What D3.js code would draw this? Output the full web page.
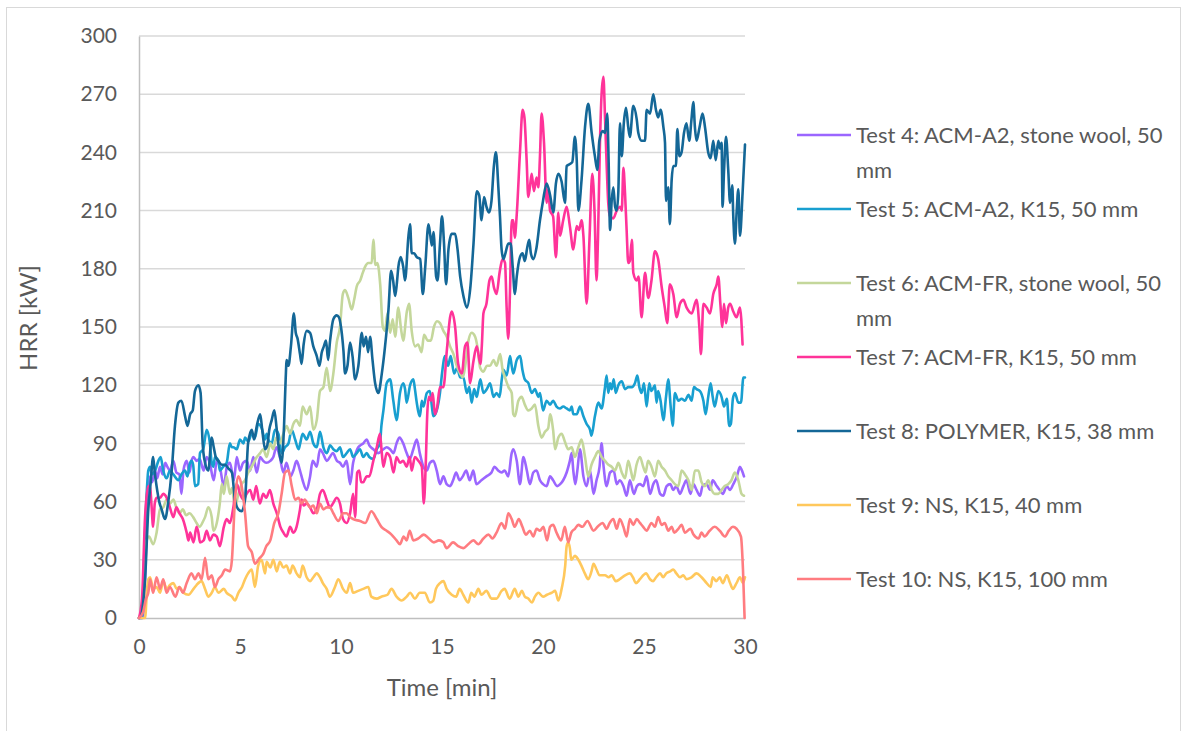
<!DOCTYPE html>
<html>
<head>
<meta charset="utf-8">
<script src="https://cdn.jsdelivr.net/npm/d3@7"></script>
<style>
  html, body { margin: 0; padding: 0; background: #fff; }
  svg text { font-family: Lato, "Open Sans", sans-serif; fill: #595959; }
</style>
</head>
<body>
<svg id="chart" width="1184" height="731"></svg>
<script>
// Heat release rate curves, [time in min, HRR in kW]
const test4 = [[0,0],[0.2,0],[0.4,50],[0.55,73],[0.65,70],[0.8,76],[0.9,72],[1.04,78],[1.17,74],[1.3,80],[1.4,78],[1.53,76],[1.7,81],[1.85,75],[2.0,74],[2.1,64],[2.2,76],[2.36,81],[2.5,75],[2.6,81],[2.7,83],[2.85,81],[3.0,82],[3.2,76],[3.35,83],[3.5,80],[3.7,71],[3.85,81],[4.0,78],[4.2,68],[4.35,78],[4.5,80],[4.7,71],[4.84,83],[5.0,76],[5.15,80],[5.33,81],[5.5,76],[5.66,83],[5.83,75],[6.0,83],[6.15,81],[6.3,80],[6.5,81],[6.65,83],[6.8,88],[6.97,83],[7.15,75],[7.3,80],[7.5,73],[7.64,76],[7.8,81],[7.97,76],[8.1,71],[8.3,66],[8.47,73],[8.6,81],[8.8,78],[8.96,87],[9.1,85],[9.3,81],[9.45,83],[9.6,85],[9.8,81],[9.95,80],[10.1,78],[10.28,81],[10.45,69],[10.6,80],[10.8,87],[10.95,89],[11.1,90],[11.27,92],[11.4,89],[11.6,87],[11.85,85],[12.1,87],[12.26,88],[12.43,87],[12.6,85],[12.75,90],[12.9,93],[13.08,90],[13.25,85],[13.4,82],[13.58,87],[13.75,92],[13.9,85],[14.08,78],[14.25,76],[14.4,80],[14.57,81],[14.74,76],[14.9,69],[15.07,73],[15.23,69],[15.4,68],[15.55,71],[15.7,75],[15.87,71],[16.03,73],[16.2,76],[16.37,71],[16.55,76],[16.7,69],[16.95,71],[17.2,73],[17.45,75],[17.6,78],[17.78,76],[17.95,75],[18.1,76],[18.28,73],[18.45,85],[18.53,87],[18.7,81],[18.86,69],[19.03,83],[19.2,76],[19.35,69],[19.52,75],[19.68,76],[19.85,71],[20.0,69],[20.18,68],[20.35,73],[20.5,71],[20.7,68],[20.85,69],[21.0,71],[21.17,75],[21.33,81],[21.42,85],[21.5,76],[21.6,69],[21.7,76],[21.83,87],[22.0,73],[22.16,68],[22.33,76],[22.5,64],[22.65,71],[22.8,78],[22.9,90],[23.0,78],[23.15,68],[23.32,75],[23.5,76],[23.65,69],[23.8,71],[23.98,68],[24.14,63],[24.3,71],[24.5,64],[24.65,68],[24.8,69],[24.96,68],[25.13,73],[25.3,64],[25.46,69],[25.6,71],[25.8,64],[25.95,63],[26.12,68],[26.3,69],[26.45,66],[26.6,68],[26.78,64],[26.95,68],[27.1,71],[27.3,64],[27.44,69],[27.6,66],[27.77,63],[27.9,68],[28.1,69],[28.27,66],[28.4,71],[28.6,68],[28.75,66],[28.9,64],[29.1,68],[29.25,66],[29.42,69],[29.6,73],[29.75,78],[29.85,76],[29.95,73]];

const test5 = [[0,0],[0.15,0],[0.25,30],[0.38,64],[0.46,76],[0.55,78],[0.63,74],[0.8,76],[0.96,81],[1.07,83],[1.2,76],[1.37,72],[1.53,76],[1.7,74],[1.95,71],[2.1,74],[2.28,76],[2.4,73],[2.5,79],[2.6,81],[2.68,79],[2.77,68],[2.93,69],[3.02,85],[3.18,87],[3.35,97],[3.51,90],[3.6,80],[3.68,78],[3.76,83],[3.93,81],[4.0,76],[4.17,78],[4.34,80],[4.5,90],[4.6,88],[4.67,88],[4.84,87],[5.0,92],[5.17,90],[5.25,93],[5.41,91],[5.58,95],[5.74,93],[5.9,100],[6.07,98],[6.24,92],[6.32,95],[6.4,92],[6.57,90],[6.73,97],[6.9,95],[7.06,85],[7.23,88],[7.4,90],[7.56,97],[7.73,92],[7.9,87],[7.98,90],[8.1,95],[8.3,92],[8.47,96],[8.63,90],[8.8,88],[8.96,96],[9.13,88],[9.3,85],[9.46,89],[9.62,87],[9.79,86],[9.95,88],[10.1,83],[10.28,85],[10.45,87],[10.6,83],[10.78,85],[10.94,87],[11.1,83],[11.27,85],[11.4,83],[11.6,82],[11.77,87],[11.93,90],[12.0,99],[12.1,107],[12.26,121],[12.43,123],[12.59,112],[12.75,102],[12.92,116],[13.08,121],[13.17,118],[13.25,111],[13.42,120],[13.58,123],[13.66,118],[13.75,111],[13.91,104],[14.0,112],[14.08,109],[14.25,116],[14.4,117],[14.5,109],[14.57,104],[14.74,107],[14.9,116],[15.0,126],[15.15,135],[15.3,130],[15.43,135],[15.6,126],[15.75,129],[15.9,124],[16.06,124],[16.23,116],[16.35,119],[16.47,111],[16.59,118],[16.72,114],[16.8,118],[16.9,123],[17.05,116],[17.22,118],[17.38,121],[17.55,114],[17.7,116],[17.85,114],[17.96,123],[18.04,128],[18.2,125],[18.37,135],[18.45,130],[18.53,126],[18.7,133],[18.87,135],[18.98,128],[19.1,123],[19.28,121],[19.44,116],[19.6,118],[19.77,114],[19.85,116],[20.0,107],[20.18,112],[20.35,110],[20.5,112],[20.67,109],[20.84,108],[21.0,109],[21.17,108],[21.33,107],[21.42,109],[21.5,105],[21.67,105],[21.83,109],[22.0,104],[22.16,100],[22.33,97],[22.4,94],[22.57,104],[22.74,111],[22.9,108],[23.07,119],[23.15,125],[23.23,116],[23.32,121],[23.4,118],[23.5,123],[23.6,116],[23.73,120],[23.9,122],[24.06,118],[24.22,119],[24.4,119],[24.55,121],[24.67,125],[24.77,119],[24.88,116],[25.0,121],[25.13,109],[25.26,121],[25.37,117],[25.54,120],[25.62,111],[25.7,117],[25.82,112],[25.96,102],[26.09,114],[26.2,123],[26.32,109],[26.42,99],[26.53,116],[26.7,112],[26.86,113],[27.03,112],[27.2,115],[27.36,112],[27.47,119],[27.6,118],[27.77,117],[27.94,112],[28.05,105],[28.18,114],[28.3,121],[28.4,114],[28.5,109],[28.68,117],[28.84,114],[28.96,109],[29.1,113],[29.22,99],[29.3,100],[29.4,113],[29.5,116],[29.67,111],[29.8,111],[29.92,124],[30.0,124]];

const test6 = [[0,0],[0.15,5],[0.25,20],[0.38,40],[0.5,42],[0.7,38],[0.87,44],[1.04,56],[1.2,57],[1.37,61],[1.53,59],[1.7,61],[1.85,57],[2.0,54],[2.17,56],[2.33,53],[2.5,54],[2.68,52],[2.85,49],[3.0,47],[3.18,50],[3.27,52],[3.43,57],[3.6,52],[3.68,45],[3.85,49],[4.0,59],[4.1,69],[4.2,64],[4.34,73],[4.5,64],[4.6,67],[4.75,57],[4.92,64],[5.08,69],[5.25,71],[5.41,75],[5.58,78],[5.83,83],[6.0,85],[6.15,87],[6.32,83],[6.5,90],[6.65,87],[6.8,93],[6.97,90],[7.15,95],[7.31,99],[7.48,95],[7.64,100],[7.8,102],[7.97,99],[8.1,109],[8.3,105],[8.47,109],[8.63,97],[8.8,102],[8.96,117],[9.13,119],[9.29,129],[9.46,117],[9.62,126],[9.79,142],[9.95,150],[10.09,167],[10.2,169],[10.36,165],[10.53,159],[10.65,164],[10.78,171],[10.95,174],[11.08,178],[11.19,181],[11.35,183],[11.52,183],[11.6,195],[11.7,182],[11.8,183],[11.94,172],[12.07,150],[12.18,148],[12.3,157],[12.43,147],[12.56,154],[12.68,145],[12.84,160],[12.96,150],[13.08,143],[13.26,158],[13.37,162],[13.5,148],[13.67,140],[13.82,141],[13.99,137],[14.11,146],[14.3,143],[14.45,143],[14.6,150],[14.75,153],[14.9,152],[15.07,148],[15.24,145],[15.4,140],[15.57,136],[15.73,130],[15.9,126],[16.03,124],[16.15,130],[16.31,143],[16.47,147],[16.64,145],[16.75,140],[16.89,129],[17.05,127],[17.22,130],[17.38,130],[17.55,133],[17.7,130],[17.88,136],[18.0,128],[18.12,124],[18.29,119],[18.45,116],[18.53,105],[18.61,104],[18.78,112],[18.94,114],[19.1,110],[19.27,107],[19.44,108],[19.6,110],[19.77,99],[19.93,93],[20.1,96],[20.26,98],[20.35,105],[20.5,97],[20.6,87],[20.76,93],[20.92,95],[21.08,91],[21.25,87],[21.42,88],[21.58,83],[21.75,88],[21.91,92],[22.08,83],[22.24,73],[22.4,79],[22.57,83],[22.74,86],[22.9,83],[23.07,81],[23.24,79],[23.4,78],[23.57,76],[23.73,80],[23.9,75],[24.06,72],[24.22,81],[24.35,76],[24.47,71],[24.63,79],[24.8,83],[24.96,78],[25.08,75],[25.2,81],[25.37,78],[25.54,73],[25.7,81],[25.87,78],[26.04,76],[26.2,73],[26.37,71],[26.53,69],[26.7,68],[26.86,76],[27.03,74],[27.2,71],[27.36,66],[27.52,76],[27.69,76],[27.85,70],[28.02,68],[28.18,71],[28.35,66],[28.5,64],[28.68,64],[28.84,66],[29.0,68],[29.17,69],[29.33,71],[29.5,75],[29.67,71],[29.83,64],[29.95,63]];

const test7 = [[0,0],[0.15,10],[0.3,52],[0.46,68],[0.55,68],[0.62,58],[0.7,47],[0.78,59],[0.87,62],[1.04,62],[1.2,64],[1.37,62],[1.53,57],[1.7,52],[1.85,57],[2.0,54],[2.17,51],[2.36,44],[2.45,40],[2.53,44],[2.7,39],[2.85,47],[2.94,44],[3.02,39],[3.2,40],[3.35,45],[3.51,40],[3.68,43],[3.85,42],[4.0,37],[4.2,47],[4.34,51],[4.5,49],[4.67,57],[4.84,69],[5.0,64],[5.17,61],[5.33,64],[5.5,66],[5.66,61],[5.8,68],[5.98,59],[6.15,64],[6.3,62],[6.48,66],[6.65,59],[6.82,54],[7.0,47],[7.15,44],[7.3,42],[7.48,47],[7.64,44],[7.8,47],[7.97,56],[8.05,61],[8.15,58],[8.3,59],[8.47,57],[8.63,54],[8.8,56],[8.96,64],[9.1,66],[9.29,61],[9.45,57],[9.6,59],[9.79,62],[9.95,59],[10.1,51],[10.28,49],[10.45,54],[10.6,64],[10.7,52],[10.8,75],[10.9,76],[11.0,70],[11.1,70],[11.27,73],[11.4,73],[11.6,81],[11.77,88],[11.93,95],[12.02,85],[12.1,78],[12.26,85],[12.43,83],[12.6,75],[12.75,83],[12.92,80],[13.08,81],[13.25,78],[13.4,83],[13.5,76],[13.66,83],[13.83,81],[14.0,78],[14.1,59],[14.2,81],[14.27,105],[14.35,114],[14.45,112],[14.54,116],[14.65,105],[14.75,108],[14.9,119],[15.07,119],[15.24,138],[15.4,155],[15.48,158],[15.65,150],[15.8,131],[15.98,126],[16.14,140],[16.26,142],[16.39,121],[16.55,132],[16.72,140],[16.9,131],[16.97,140],[17.05,157],[17.2,162],[17.35,174],[17.46,176],[17.58,170],[17.7,167],[17.85,178],[18.0,185],[18.12,183],[18.2,160],[18.28,144],[18.37,170],[18.45,205],[18.53,205],[18.6,196],[18.7,208],[18.86,240],[18.99,262],[19.08,258],[19.19,236],[19.27,217],[19.35,222],[19.44,229],[19.55,220],[19.68,227],[19.77,222],[19.85,238],[19.93,260],[20.05,245],[20.18,214],[20.26,221],[20.35,210],[20.5,207],[20.64,186],[20.76,209],[20.84,197],[21.0,205],[21.17,212],[21.33,202],[21.5,190],[21.67,202],[21.78,200],[21.91,205],[22.0,197],[22.16,162],[22.3,195],[22.44,229],[22.55,210],[22.65,174],[22.72,195],[22.82,245],[22.9,270],[22.99,279],[23.07,258],[23.15,234],[23.23,214],[23.32,207],[23.48,206],[23.65,210],[23.82,212],[23.9,210],[23.98,232],[24.06,219],[24.14,200],[24.22,183],[24.3,184],[24.4,195],[24.47,178],[24.64,174],[24.73,176],[24.88,155],[25.05,178],[25.21,165],[25.37,174],[25.54,189],[25.7,185],[25.87,171],[26.03,160],[26.15,152],[26.28,172],[26.45,167],[26.62,155],[26.78,162],[26.95,164],[27.11,160],[27.36,157],[27.6,164],[27.74,150],[27.82,136],[27.94,162],[28.1,160],[28.27,157],[28.43,167],[28.6,172],[28.68,176],[28.78,162],[28.88,150],[28.96,162],[29.06,152],[29.17,160],[29.26,162],[29.42,158],[29.58,155],[29.75,160],[29.88,141]];

const test8 = [[0,0],[0.05,0],[0.3,20],[0.46,56],[0.58,70],[0.7,83],[0.78,75],[0.87,68],[1.0,60],[1.12,56],[1.29,51],[1.45,60],[1.62,76],[1.78,99],[1.95,111],[2.1,112],[2.28,104],[2.4,99],[2.53,105],[2.66,107],[2.77,117],[2.94,120],[3.05,116],[3.15,90],[3.27,80],[3.43,76],[3.6,93],[3.7,88],[3.8,83],[3.93,81],[4.1,79],[4.26,79],[4.43,77],[4.6,75],[4.75,61],[4.92,56],[5.08,55],[5.25,61],[5.4,90],[5.58,97],[5.7,92],[5.83,99],[6.0,105],[6.1,97],[6.24,87],[6.35,89],[6.45,97],[6.57,102],[6.7,107],[6.82,97],[6.95,85],[7.06,80],[7.18,99],[7.26,123],[7.31,133],[7.4,130],[7.52,140],[7.67,157],[7.76,147],[7.85,144],[7.97,136],[8.05,131],[8.15,141],[8.3,148],[8.47,147],[8.63,140],[8.8,135],[8.93,130],[9.05,137],[9.15,140],[9.26,143],[9.36,133],[9.46,143],[9.62,154],[9.79,156],[9.9,155],[10.0,150],[10.12,138],[10.2,126],[10.32,130],[10.45,142],[10.57,135],[10.7,123],[10.86,130],[11.03,147],[11.12,140],[11.24,145],[11.34,137],[11.44,145],[11.56,133],[11.69,121],[11.85,116],[12.02,126],[12.18,140],[12.35,159],[12.48,179],[12.58,174],[12.68,166],[12.76,172],[12.84,181],[12.96,186],[13.08,181],[13.17,174],[13.34,197],[13.42,203],[13.5,188],[13.62,188],[13.75,186],[13.92,185],[14.05,167],[14.17,181],[14.33,203],[14.41,198],[14.5,192],[14.58,199],[14.71,176],[14.78,174],[14.9,193],[15.0,207],[15.1,193],[15.2,172],[15.32,190],[15.48,198],[15.65,198],[15.77,190],[15.9,176],[16.06,166],[16.23,160],[16.4,170],[16.56,193],[16.72,220],[16.84,218],[16.96,205],[17.08,217],[17.2,212],[17.33,209],[17.45,215],[17.57,233],[17.67,240],[17.79,222],[17.87,207],[17.95,190],[18.04,185],[18.14,188],[18.28,193],[18.4,193],[18.5,181],[18.61,167],[18.7,176],[18.86,186],[18.99,188],[19.1,184],[19.22,191],[19.32,195],[19.4,188],[19.52,185],[19.68,191],[19.85,205],[20.0,215],[20.18,224],[20.35,218],[20.51,209],[20.64,224],[20.76,229],[20.92,225],[21.09,214],[21.17,233],[21.33,234],[21.45,235],[21.58,248],[21.67,236],[21.75,210],[21.91,226],[22.08,253],[22.24,265],[22.41,250],[22.57,238],[22.69,231],[22.79,246],[22.95,251],[23.07,250],[23.18,260],[23.25,235],[23.32,200],[23.4,215],[23.48,222],[23.57,212],[23.65,210],[23.73,220],[23.81,255],[23.9,238],[24.0,255],[24.11,263],[24.22,253],[24.3,248],[24.47,264],[24.64,257],[24.72,250],[24.88,246],[25.05,246],[25.13,262],[25.3,260],[25.46,270],[25.59,262],[25.7,258],[25.82,262],[25.96,253],[26.04,245],[26.09,215],[26.2,222],[26.28,203],[26.37,226],[26.45,233],[26.58,233],[26.65,252],[26.75,238],[26.86,240],[26.98,250],[27.1,255],[27.24,246],[27.35,257],[27.44,266],[27.52,253],[27.6,246],[27.75,253],[27.9,260],[28.02,253],[28.18,240],[28.3,237],[28.43,246],[28.55,236],[28.68,246],[28.76,242],[28.84,245],[28.89,212],[28.96,230],[29.06,248],[29.17,231],[29.26,214],[29.37,223],[29.42,207],[29.5,193],[29.59,210],[29.67,221],[29.75,197],[29.88,219],[30.0,244]];

const test9 = [[0,0],[0.3,0],[0.4,15],[0.46,20],[0.55,21],[0.7,15],[0.87,16],[1.04,13],[1.2,19],[1.37,15],[1.53,17],[1.7,18],[1.87,15],[2.0,16],[2.2,13],[2.45,12],[2.7,15],[2.85,17],[3.1,19],[3.27,15],[3.43,11],[3.6,13],[3.76,16],[3.93,13],[4.2,15],[4.34,13],[4.6,11],[4.75,9],[4.92,13],[5.1,16],[5.25,20],[5.4,23],[5.58,25],[5.74,16],[5.9,27],[6.07,30],[6.24,23],[6.32,29],[6.5,26],[6.65,30],[6.82,24],[6.97,29],[7.15,26],[7.3,27],[7.48,23],[7.6,27],[7.8,23],[7.97,21],[8.1,27],[8.3,21],[8.47,19],[8.63,21],[8.8,23],[8.96,21],[9.1,18],[9.29,15],[9.45,11],[9.7,16],[9.87,20],[10.1,15],[10.28,13],[10.45,18],[10.6,13],[10.85,14],[11.1,15],[11.35,16],[11.5,11],[11.77,10],[12.0,11],[12.3,12],[12.5,15],[12.75,11],[13.0,9],[13.25,11],[13.42,13],[13.66,10],[13.9,13],[14.15,13],[14.4,8],[14.57,9],[14.7,15],[14.9,18],[15.07,19],[15.23,15],[15.48,12],[15.7,11],[15.87,15],[16.05,12],[16.3,8],[16.45,13],[16.6,11],[16.8,15],[16.95,12],[17.2,14],[17.45,10],[17.7,10],[17.95,14],[18.1,15],[18.35,10],[18.6,15],[18.78,11],[18.95,14],[19.1,11],[19.27,10],[19.45,8],[19.6,11],[19.77,13],[20.0,11],[20.2,12],[20.43,13],[20.6,14],[20.76,9],[20.92,15],[21.1,27],[21.17,37],[21.25,39],[21.33,36],[21.4,30],[21.58,32],[21.75,30],[21.9,27],[22.07,23],[22.24,20],[22.4,24],[22.5,28],[22.65,25],[22.8,22],[23.07,22],[23.25,21],[23.4,22],[23.6,19],[23.8,20],[24.06,22],[24.3,23],[24.45,21],[24.6,18],[24.8,20],[24.96,22],[25.1,23],[25.3,20],[25.45,19],[25.6,21],[25.8,23],[25.95,21],[26.1,23],[26.3,24],[26.45,25],[26.6,23],[26.78,21],[26.95,22],[27.1,20],[27.35,21],[27.6,23],[27.85,21],[28.1,18],[28.3,16],[28.4,21],[28.58,19],[28.75,21],[28.9,18],[29.1,22],[29.26,18],[29.4,15],[29.58,18],[29.75,21],[29.9,18],[30.0,21]];

const test10 = [[0,0],[0.2,3],[0.35,10],[0.46,13],[0.55,20],[0.7,13],[0.87,21],[1.04,15],[1.2,20],[1.37,13],[1.53,16],[1.8,11],[2.0,16],[2.17,13],[2.36,18],[2.6,23],[2.77,20],[2.94,23],[3.1,20],[3.27,31],[3.43,20],[3.6,22],[3.76,16],[3.93,20],[4.1,22],[4.26,25],[4.5,24],[4.6,30],[4.75,61],[4.92,73],[5.08,68],[5.25,54],[5.4,37],[5.58,34],[5.74,28],[5.98,31],[6.15,33],[6.3,37],[6.5,40],[6.7,49],[6.9,54],[7.06,64],[7.23,75],[7.4,76],[7.56,68],[7.73,61],[7.9,62],[8.05,59],[8.2,61],[8.47,57],[8.63,58],[8.8,54],[8.96,59],[9.13,56],[9.29,57],[9.45,57],[9.62,54],[9.87,50],[10.1,54],[10.28,54],[10.45,52],[10.6,51],[10.94,50],[11.2,49],[11.5,55],[11.77,51],[12.0,47],[12.26,45],[12.5,43],[12.75,40],[12.92,38],[13.1,42],[13.25,40],[13.4,45],[13.58,40],[13.83,41],[14.1,43],[14.35,41],[14.6,39],[14.85,40],[15.07,39],[15.23,36],[15.55,39],[15.8,37],[16.05,36],[16.3,38],[16.55,40],[16.8,38],[17.05,41],[17.3,43],[17.5,41],[17.7,44],[17.95,49],[18.12,46],[18.28,54],[18.45,51],[18.6,47],[18.8,51],[18.98,47],[19.15,43],[19.35,45],[19.52,42],[19.68,46],[19.85,45],[20.02,47],[20.2,40],[20.35,47],[20.5,48],[20.67,44],[20.9,40],[21.08,47],[21.25,39],[21.4,44],[21.58,46],[21.75,48],[21.95,47],[22.2,50],[22.5,45],[22.7,47],[22.95,49],[23.15,46],[23.3,49],[23.48,51],[23.65,46],[23.8,51],[23.98,47],[24.14,42],[24.3,51],[24.47,48],[24.64,51],[24.8,49],[24.96,47],[25.13,45],[25.37,49],[25.54,47],[25.7,52],[25.87,48],[26.03,49],[26.2,45],[26.37,47],[26.5,44],[26.7,46],[26.86,48],[27.03,44],[27.3,46],[27.45,43],[27.7,41],[27.85,44],[28.0,42],[28.25,45],[28.5,47],[28.75,45],[29.0,42],[29.2,45],[29.4,47],[29.58,46],[29.8,42],[29.9,25],[29.98,0]];

const seriesNames = [
  "Test 4: ACM-A2, stone wool, 50 mm",
  "Test 5: ACM-A2, K15, 50 mm",
  "Test 6: ACM-FR, stone wool, 50 mm",
  "Test 7: ACM-FR, K15, 50 mm",
  "Test 8: POLYMER, K15, 38 mm",
  "Test 9: NS, K15, 40 mm",
  "Test 10: NS, K15, 100 mm"
];
const seriesData = [test4, test5, test6, test7, test8, test9, test10];
const seriesColors = ["#9b66ff", "#189fd0", "#c4d79b", "#ff3399", "#146797", "#ffc85c", "#ff7c80"];

const xTicks = [0, 5, 10, 15, 20, 25, 30];
const yTicks = [0, 30, 60, 90, 120, 150, 180, 210, 240, 270, 300];
const xTitle = "Time [min]";
const yTitle = "HRR [kW]";

// ---- layout ----
const svg = d3.select("#chart");
const W = 1184, H = 731;
const plot = { left: 139, right: 745, top: 36, bottom: 618 };

svg.append("rect").attr("x", 0).attr("y", 0).attr("width", W).attr("height", H).attr("fill", "#fff");
svg.append("rect")
  .attr("x", 6.5).attr("y", 7.5).attr("width", W - 10).attr("height", H - 4)
  .attr("fill", "none").attr("stroke", "#d9d9d9").attr("stroke-width", 1);

const x = d3.scaleLinear().domain([0, 30]).range([plot.left, plot.right]);
const y = d3.scaleLinear().domain([0, 300]).range([plot.bottom, plot.top]);

// horizontal gridlines
svg.append("g").selectAll("line").data(yTicks.filter(d => d > 0)).join("line")
  .attr("x1", plot.left).attr("x2", plot.right)
  .attr("y1", d => y(d)).attr("y2", d => y(d))
  .attr("stroke", "#d9d9d9").attr("stroke-width", 1.5);

// y axis
const yAxis = svg.append("g")
  .attr("transform", `translate(${plot.left},0)`)
  .call(d3.axisLeft(y).tickValues(yTicks).tickSize(0).tickPadding(22));
yAxis.select(".domain").attr("stroke", "#bfbfbf").attr("stroke-width", 1.5);
yAxis.selectAll("text").style("font-size", "21px").attr("fill", "#595959").attr("font-family", "Lato");

// x axis
const xAxis = svg.append("g")
  .attr("transform", `translate(0,${plot.bottom})`)
  .call(d3.axisBottom(x).tickValues(xTicks).tickSize(0).tickPadding(21));
xAxis.select(".domain").attr("stroke", "#bfbfbf").attr("stroke-width", 1.5);
xAxis.selectAll("text").style("font-size", "21px").attr("fill", "#595959").attr("font-family", "Lato");

// axis titles
svg.append("text")
  .attr("x", 442).attr("y", 696)
  .attr("text-anchor", "middle").style("font-size", "24px")
  .text(xTitle);
svg.append("text")
  .attr("transform", `translate(37,${318}) rotate(-90)`)
  .attr("text-anchor", "middle").style("font-size", "24px")
  .text(yTitle);

// data lines
svg.append("clipPath").attr("id", "plotClip").append("rect")
  .attr("x", plot.left - 2).attr("y", plot.top - 4)
  .attr("width", plot.right - plot.left + 4).attr("height", plot.bottom - plot.top + 6);

const line = d3.line()
  .x(d => x(d[0]))
  .y(d => y(d[1]))
  .curve(d3.curveMonotoneX);

svg.append("g").attr("clip-path", "url(#plotClip)")
  .selectAll("path").data(seriesData).join("path")
  .attr("d", line)
  .attr("fill", "none")
  .attr("stroke", (d, i) => seriesColors[i])
  .attr("stroke-width", 2.6)
  .attr("stroke-linejoin", "round")
  .attr("stroke-linecap", "round");

// legend
const legend = svg.append("g");
const legendX = 797, legendY0 = 135, legendStep = 74, wrapWidth = 322;
seriesNames.forEach((name, i) => {
  const yy = legendY0 + i * legendStep;
  legend.append("line")
    .attr("x1", legendX).attr("x2", legendX + 54)
    .attr("y1", yy).attr("y2", yy)
    .attr("stroke", seriesColors[i]).attr("stroke-width", 2.6);
  const t = legend.append("text")
    .attr("x", legendX + 59).attr("y", yy + 7.5)
    .style("font-size", "22px");
  // word wrap within wrapWidth
  const words = name.split(" ");
  let lineWords = [];
  let tspan = t.append("tspan").attr("x", legendX + 59).attr("dy", 0);
  words.forEach(w => {
    lineWords.push(w);
    tspan.text(lineWords.join(" "));
    if (tspan.node().getComputedTextLength() > wrapWidth && lineWords.length > 1) {
      lineWords.pop();
      tspan.text(lineWords.join(" "));
      lineWords = [w];
      tspan = t.append("tspan").attr("x", legendX + 59).attr("dy", 35).text(w);
    }
  });
});
</script>
</body>
</html>
